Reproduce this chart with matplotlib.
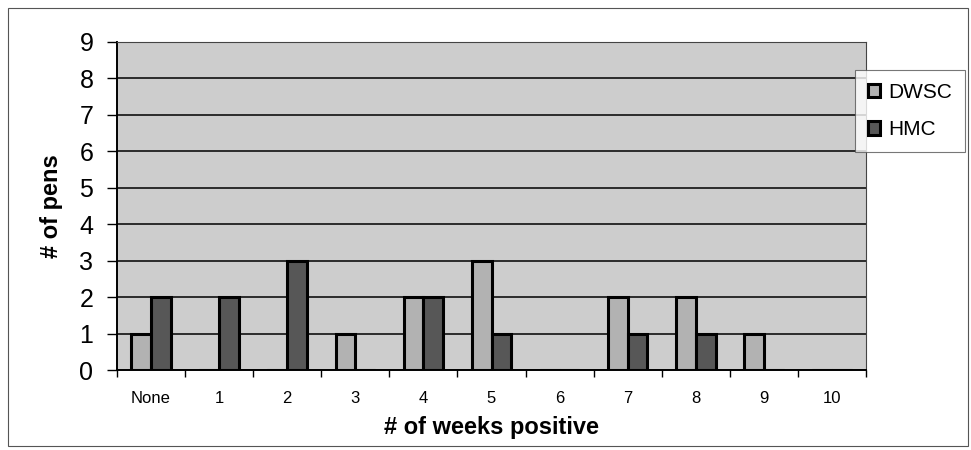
import numpy as np
import matplotlib.pyplot as plt
from matplotlib.patches import Rectangle

plt.rcParams['font.family'] = ['Liberation Sans', 'DejaVu Sans']

# Nombre d'enclos par nombre de semaines positives
categories = ["None", "1", "2", "3", "4", "5", "6", "7", "8", "9", "10"]
dwsc = [1, 0, 0, 1, 2, 3, 0, 2, 2, 1, 0]
hmc = [2, 2, 3, 0, 2, 1, 0, 1, 1, 0, 0]

fig = plt.figure(figsize=(9.71, 4.5), dpi=100)
ax = fig.add_axes([117 / 971, 1 - 370 / 450, 749 / 971, 328 / 450])
ax.set_facecolor("#cdcdcd")

x = np.arange(len(categories))
w = 0.29
ax.bar(x - w / 2, dwsc, w, color="#b2b2b2", edgecolor="black", linewidth=2.2,
       label="DWSC", zorder=3)
ax.bar(x + w / 2, hmc, w, color="#575757", edgecolor="black", linewidth=2.2,
       label="HMC", zorder=3)

ax.set_xlim(-0.5, len(categories) - 0.5)
ax.set_ylim(0, 9)
ax.set_yticks(range(10))
ax.tick_params(axis="y", labelsize=18, length=7, width=1, pad=10)
ax.yaxis.grid(True, color="black", linewidth=1.1)
ax.set_axisbelow(True)

# graduations entre les catégories, libellés au centre
ax.set_xticks(np.arange(len(categories) + 1) - 0.5)
ax.set_xticklabels([])
ax.set_xticks(x, minor=True)
ax.set_xticklabels(categories, minor=True, fontsize=12)
ax.tick_params(axis="x", which="major", length=5, width=1)
ax.tick_params(axis="x", which="minor", length=0, pad=15)

for side in ["top", "right"]:
    ax.spines[side].set_color("#444444")
    ax.spines[side].set_linewidth(0.8)
ax.spines["left"].set_linewidth(1.4)
ax.spines["bottom"].set_linewidth(1.4)

ax.set_ylabel("# of pens", fontsize=17, fontweight="bold", labelpad=12)
ax.set_xlabel("# of weeks positive", fontsize=17, fontweight="bold", labelpad=7)

leg = fig.legend(loc="upper left", bbox_to_anchor=(855 / 971, 1 - 70 / 450),
                 fontsize=15, frameon=True, fancybox=False, edgecolor="#555555",
                 handlelength=0.6, handleheight=0.6, handletextpad=0.4,
                 labelspacing=0.9, borderpad=0.6, borderaxespad=0)
leg.get_frame().set_linewidth(0.8)

# cadre extérieur du graphique
fig.patches.append(Rectangle((8 / 971, 4 / 450), 960 / 971, 438 / 450,
                             transform=fig.transFigure, fill=False,
                             edgecolor="#555555", linewidth=0.8))

fig.savefig("out.png", dpi=100)
